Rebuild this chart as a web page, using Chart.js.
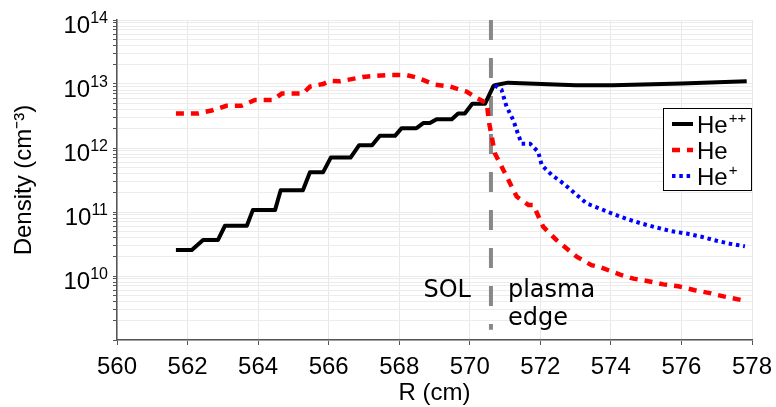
<!DOCTYPE html>
<html>
<head>
<meta charset="utf-8">
<script src="https://cdn.jsdelivr.net/npm/chart.js@4.4.0/dist/chart.umd.min.js"></script>
<style>
  html, body { margin: 0; padding: 0; background: #fff; }
</style>
</head>
<body>
<canvas id="density-chart" width="776" height="407"></canvas>
<script>
// He++ density (solid black), R in cm, n in cm^-3
const rHe2 = [561.67, 562.12, 562.44, 562.86, 563.06, 563.68, 563.85, 564.48, 564.64, 565.27,
              565.47, 565.84, 566.06, 566.62, 566.86, 567.23, 567.45, 567.88, 568.07, 568.49,
              568.68, 568.87, 569.06, 569.49, 569.67, 569.86, 570.07, 570.43, 570.67, 570.71,
              571.08, 573.0, 574.06, 576.0, 577.85];
const nHe2 = [2.55e10, 2.55e10, 3.65e10, 3.65e10, 6.1e10, 6.1e10, 1.07e11, 1.07e11, 2.19e11, 2.19e11,
              4.17e11, 4.17e11, 7.08e11, 7.08e11, 1.10e12, 1.10e12, 1.55e12, 1.55e12, 2.04e12, 2.04e12,
              2.45e12, 2.45e12, 2.82e12, 2.82e12, 3.47e12, 3.47e12, 4.9e12, 4.9e12, 9.3e12, 9.55e12,
              1.05e13, 9.6e12, 9.6e12, 1.02e13, 1.10e13];

// He density (dashed red)
const rHe = [561.67, 562.3, 562.71, 563.1, 563.53, 563.91, 564.42, 564.67, 565.27, 565.47,
             565.84, 566.04, 566.32, 566.97, 567.64, 568.2, 568.5, 569.0, 569.44, 569.91,
             570.2, 570.48, 570.55, 570.71, 571.05, 571.33, 571.66, 571.8, 572.08, 572.46,
             573.03, 573.45, 573.69, 574.26, 574.64, 575.06, 575.49, 575.91, 576.38, 576.81,
             577.19, 577.71];
const nHe = [3.47e12, 3.47e12, 3.89e12, 4.57e12, 4.57e12, 5.62e12, 5.62e12, 7.08e12, 7.08e12, 9.12e12,
             1.0e13, 1.12e13, 1.10e13, 1.29e13, 1.38e13, 1.38e13, 1.26e13, 9.8e12, 9.12e12, 7.59e12,
             6.03e12, 5.01e12, 2.45e12, 8.3e11, 3.55e11, 1.74e11, 1.29e11, 1.29e11, 5.9e10, 3.63e10,
             2.0e10, 1.48e10, 1.38e10, 1.05e10, 9.1e9, 8.3e9, 7.4e9, 6.9e9, 6.0e9, 5.4e9,
             4.8e9, 4.2e9];

// He+ density (dotted blue)
const rHe1 = [570.71, 570.9, 571.04, 571.23, 571.38, 571.47, 571.71, 571.94, 572.04, 572.32,
              572.65, 572.98, 573.31, 573.74, 574.07, 574.45, 574.87, 575.3, 575.72, 576.15,
              576.57, 577.0, 577.37, 577.8];
const nHe1 = [9.55e12, 8.13e12, 4.47e12, 2.75e12, 1.58e12, 1.17e12, 1.17e12, 8.7e11, 5.4e11, 3.8e11,
              2.8e11, 1.95e11, 1.36e11, 1.10e11, 9.3e10, 7.8e10, 6.6e10, 5.7e10, 5.0e10, 4.6e10,
              4.1e10, 3.55e10, 3.2e10, 2.9e10];

// SOL / plasma edge boundary
const sepR = 570.6;
const sepN = [1e14, 1.45e9];

// axes
const xTicks = [560, 562, 564, 566, 568, 570, 572, 574, 576, 578];
const yDecades = [9, 10, 11, 12, 13];
const yLabelDecades = [10, 11, 12, 13, 14];

// legend: [base, superscript]
const legendLabels = [['He', '++'], ['He', ''], ['He', '+']];

const FONT = '"Liberation Sans", Arial, sans-serif';

function toPoints(xs, ys) {
    return xs.map((x, i) => ({ x: x, y: ys[i] }));
}

const seriesStyles = [
    { color: '#000000', width: 4, dash: [] },
    { color: '#ff0000', width: 4.5, dash: [8, 7] },
    { color: '#0000ff', width: 4, dash: [3.5, 3.8] }
];

// y tick labels as 10 with raised exponent
const yLabelsPlugin = {
    id: 'yLabels',
    afterDraw(chart) {
        const ctx = chart.ctx;
        const y = chart.scales.y;
        const right = y.right - 9;
        ctx.save();
        ctx.fillStyle = '#000';
        ctx.textAlign = 'right';
        ctx.textBaseline = 'alphabetic';
        yLabelDecades.forEach(d => {
            const py = y.getPixelForValue(Math.pow(10, d));
            ctx.font = '16px ' + FONT;
            const ex = String(d);
            const ew = ctx.measureText(ex).width;
            ctx.fillText(ex, right, py + 3);
            ctx.font = '24px ' + FONT;
            ctx.fillText('10', right - ew, py + 13);
        });
        ctx.restore();
    }
};

// SOL / plasma edge text
const regionTextPlugin = {
    id: 'regionText',
    afterDatasetsDraw(chart) {
        const ctx = chart.ctx;
        const px = chart.scales.x.getPixelForValue(sepR);
        ctx.save();
        ctx.fillStyle = '#000';
        ctx.font = '24px "DejaVu Sans", sans-serif';
        ctx.textBaseline = 'alphabetic';
        ctx.textAlign = 'right';
        ctx.fillText('SOL', px - 20, 297);
        ctx.textAlign = 'left';
        ctx.fillText('plasma', px + 17, 297);
        ctx.fillText('edge', px + 17, 325);
        ctx.restore();
    }
};

// boxed legend inside the plot
const boxLegendPlugin = {
    id: 'boxLegend',
    afterDraw(chart) {
        const ctx = chart.ctx;
        const area = chart.chartArea;
        const w = 89, h = 83;
        const left = area.right - w;
        const top = area.top + 88;
        ctx.save();
        ctx.fillStyle = '#fff';
        ctx.fillRect(left, top, w, h);
        ctx.strokeStyle = '#000';
        ctx.lineWidth = 1;
        ctx.strokeRect(left + 0.5, top + 0.5, w - 1, h - 1);
        legendLabels.forEach((lab, i) => {
            const cy = top + 16 + i * 26;
            const st = seriesStyles[i];
            ctx.beginPath();
            ctx.setLineDash(st.dash);
            ctx.strokeStyle = st.color;
            ctx.lineWidth = st.width;
            ctx.moveTo(left + 9, cy);
            ctx.lineTo(left + 30, cy);
            ctx.stroke();
            ctx.setLineDash([]);
            ctx.fillStyle = '#000';
            ctx.textAlign = 'left';
            ctx.textBaseline = 'alphabetic';
            ctx.font = '24px ' + FONT;
            ctx.fillText(lab[0], left + 34, cy + 9);
            const bw = ctx.measureText(lab[0]).width;
            if (lab[1]) {
                ctx.font = '15px ' + FONT;
                ctx.fillText(lab[1], left + 34 + bw + 1, cy - 1);
            }
        });
        ctx.restore();
    }
};

const ctx = document.getElementById('density-chart').getContext('2d');
const densityChart = new Chart(ctx, {
    type: 'line',
    data: {
        datasets: [
            {
                label: 'He++',
                data: toPoints(rHe2, nHe2),
                borderColor: seriesStyles[0].color,
                borderWidth: seriesStyles[0].width,
                borderJoinStyle: 'round',
                pointRadius: 0,
                order: 3
            },
            {
                label: 'He',
                data: toPoints(rHe, nHe),
                borderColor: seriesStyles[1].color,
                borderWidth: seriesStyles[1].width,
                borderDash: seriesStyles[1].dash,
                pointRadius: 0,
                order: 2
            },
            {
                label: 'He+',
                data: toPoints(rHe1, nHe1),
                borderColor: seriesStyles[2].color,
                borderWidth: seriesStyles[2].width,
                borderDash: seriesStyles[2].dash,
                pointRadius: 0,
                order: 1
            },
            {
                label: 'separatrix',
                data: toPoints([sepR, sepR], sepN),
                borderColor: '#888888',
                borderWidth: 4,
                borderDash: [20, 18],
                pointRadius: 0,
                order: 4
            }
        ]
    },
    options: {
        responsive: false,
        animation: false,
        layout: { padding: { left: 0, right: 24, top: 20, bottom: 0 } },
        plugins: {
            legend: { display: false },
            tooltip: { enabled: false }
        },
        scales: {
            x: {
                type: 'linear',
                min: 560,
                max: 578,
                afterBuildTicks: s => { s.ticks = xTicks.map(v => ({ value: v })); },
                afterFit: s => { s.height = 67; s.paddingLeft = 0; s.paddingRight = 0; },
                border: { color: '#555', width: 1.5 },
                grid: { color: '#e8e8e8', lineWidth: 1, tickColor: '#555', tickLength: 5 },
                ticks: {
                    autoSkip: false,
                    maxRotation: 0,
                    padding: 8,
                    color: '#000',
                    font: { family: FONT, size: 24 }
                },
                title: {
                    display: true,
                    text: 'R (cm)',
                    color: '#000',
                    font: { family: FONT, size: 24 },
                    padding: { top: 0, bottom: -1 }
                }
            },
            y: {
                type: 'logarithmic',
                min: 1e9,
                max: 1e14,
                afterBuildTicks: s => {
                    const t = [];
                    yDecades.forEach(d => {
                        for (let m = 1; m <= 9; m++) t.push({ value: m * Math.pow(10, d) });
                    });
                    t.push({ value: 1e14 });
                    s.ticks = t;
                },
                afterFit: s => { s.width = 117; s.paddingTop = 0; s.paddingBottom = 0; },
                border: { color: '#555', width: 1.5 },
                grid: { color: '#ececec', lineWidth: 1, tickColor: '#555', tickLength: 4 },
                ticks: {
                    autoSkip: false,
                    callback: () => '',
                    font: { family: FONT, size: 24 }
                },
                title: {
                    display: true,
                    text: 'Density (cm⁻³)',
                    color: '#000',
                    font: { family: FONT, size: 24 },
                    padding: { top: 10, bottom: 0 }
                }
            }
        }
    },
    plugins: [yLabelsPlugin, regionTextPlugin, boxLegendPlugin]
});
</script>
</body>
</html>
